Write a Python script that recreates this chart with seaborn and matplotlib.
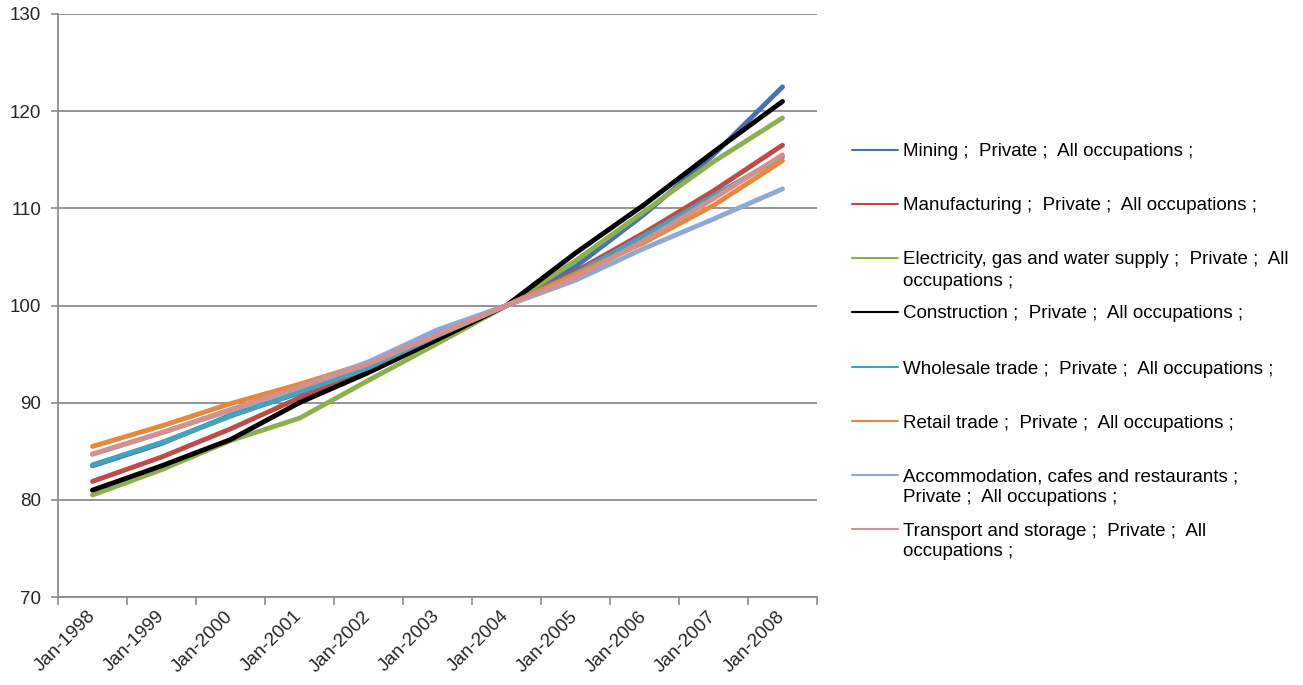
import matplotlib
matplotlib.use("Agg")
import matplotlib.pyplot as plt
from matplotlib.lines import Line2D
import numpy as np
import pandas as pd
import seaborn as sns

# Index values (Jan-2004 = 100) by year
years = ["Jan-1998", "Jan-1999", "Jan-2000", "Jan-2001", "Jan-2002", "Jan-2003",
         "Jan-2004", "Jan-2005", "Jan-2006", "Jan-2007", "Jan-2008"]

mining = [83.5, 85.8, 88.7, 91.0, 93.7, 96.9, 100.0, 104.0, 109.4, 115.5, 122.5]
manufacturing = [81.9, 84.4, 87.3, 90.5, 93.4, 96.8, 100.0, 103.5, 107.5, 111.8, 116.5]
electricity = [80.5, 83.1, 86.1, 88.4, 92.3, 96.1, 100.0, 104.6, 109.7, 114.8, 119.3]
construction = [81.0, 83.5, 86.2, 90.0, 93.1, 96.5, 100.0, 105.4, 110.4, 115.8, 121.0]
wholesale = [83.6, 85.9, 88.6, 91.1, 93.6, 96.9, 100.0, 103.3, 107.2, 111.3, 115.3]
retail = [85.5, 87.6, 89.9, 91.9, 94.1, 97.0, 100.0, 103.2, 106.5, 110.3, 114.9]
accommodation = [84.7, 86.9, 89.2, 91.6, 94.2, 97.5, 100.0, 102.6, 105.9, 108.9, 112.0]
transport = [84.7, 86.9, 89.3, 91.6, 94.0, 97.0, 100.0, 102.9, 106.7, 111.0, 115.5]

series_names = ["Mining", "Manufacturing", "Electricity", "Construction",
                "Wholesale", "Retail", "Accommodation", "Transport"]
series_values = [mining, manufacturing, electricity, construction,
                 wholesale, retail, accommodation, transport]
legend_labels = [
    ["Mining ;  Private ;  All occupations ;"],
    ["Manufacturing ;  Private ;  All occupations ;"],
    ["Electricity, gas and water supply ;  Private ;  All", "occupations ;"],
    ["Construction ;  Private ;  All occupations ;"],
    ["Wholesale trade ;  Private ;  All occupations ;"],
    ["Retail trade ;  Private ;  All occupations ;"],
    ["Accommodation, cafes and restaurants ;", "Private ;  All occupations ;"],
    ["Transport and storage ;  Private ;  All", "occupations ;"],
]
colors = ["#4473B0", "#BE4B48", "#8DB04E", "#000000",
          "#43A2BE", "#E8883A", "#8EA9D5", "#D4908E"]
yticks = [70, 80, 90, 100, 110, 120, 130]

rows = []
for name, vals in zip(series_names, series_values):
    for i, v in enumerate(vals):
        rows.append({"series": name, "pos": i, "value": v})
df = pd.DataFrame(rows)

sns.set_theme(style="white")
plt.rcParams["font.family"] = ["Liberation Sans", "DejaVu Sans"]

W, H = 1303, 685
fig = plt.figure(figsize=(W / 100, H / 100), dpi=100)
ax = fig.add_axes([58 / W, 1 - 597 / H, (817 - 58) / W, (597 - 14) / H])

palette = dict(zip(series_names, colors))
sns.lineplot(data=df, x="pos", y="value", hue="series", hue_order=series_names,
             palette=palette, linewidth=3.5, legend=False, ax=ax,
             solid_capstyle="round", solid_joinstyle="round")

grid_color = "#8C8C8C"
ax.set_xlim(-0.5, len(years) - 0.5)
ax.set_ylim(70, 130)
ax.set_yticks(yticks)
ax.set_yticklabels([str(t) for t in yticks], fontsize=13.5)
ax.yaxis.grid(True, color=grid_color, linewidth=1.3)
ax.set_axisbelow(True)

ax.set_xticks(np.arange(len(years)))
ax.set_xticklabels(years, rotation=45, ha="right", va="center",
                   rotation_mode="anchor", fontsize=13.5)
ax.set_xticks(np.arange(len(years) + 1) - 0.5, minor=True)
ax.tick_params(axis="x", which="major", length=0, pad=12)
ax.tick_params(axis="x", which="minor", length=6, width=1.2, color=grid_color,
               direction="out", bottom=True)
ax.tick_params(axis="y", which="major", length=5, width=1.2, color=grid_color,
               direction="out", left=True, pad=7)
ax.set_xlabel("")
ax.set_ylabel("")

for side in ["top", "right"]:
    ax.spines[side].set_visible(False)
for side in ["left", "bottom"]:
    ax.spines[side].set_visible(True)
    ax.spines[side].set_color(grid_color)
    ax.spines[side].set_linewidth(1.3)

# Legend drawn as evenly spaced entries with wrapped labels
entry_y = [150, 204, 258, 312, 367, 421, 475, 529]
line_gap = 21
for y, col, lines in zip(entry_y, colors, legend_labels):
    fig.add_artist(Line2D([852 / W, 898 / W], [1 - y / H, 1 - y / H],
                          transform=fig.transFigure, color=col, linewidth=1.5))
    for k, txt in enumerate(lines):
        fig.text(903 / W, 1 - (y + k * line_gap) / H, txt, fontsize=13.5,
                 va="center_baseline", ha="left", color="#000000")

fig.savefig("out.png", dpi=100, facecolor="white")
